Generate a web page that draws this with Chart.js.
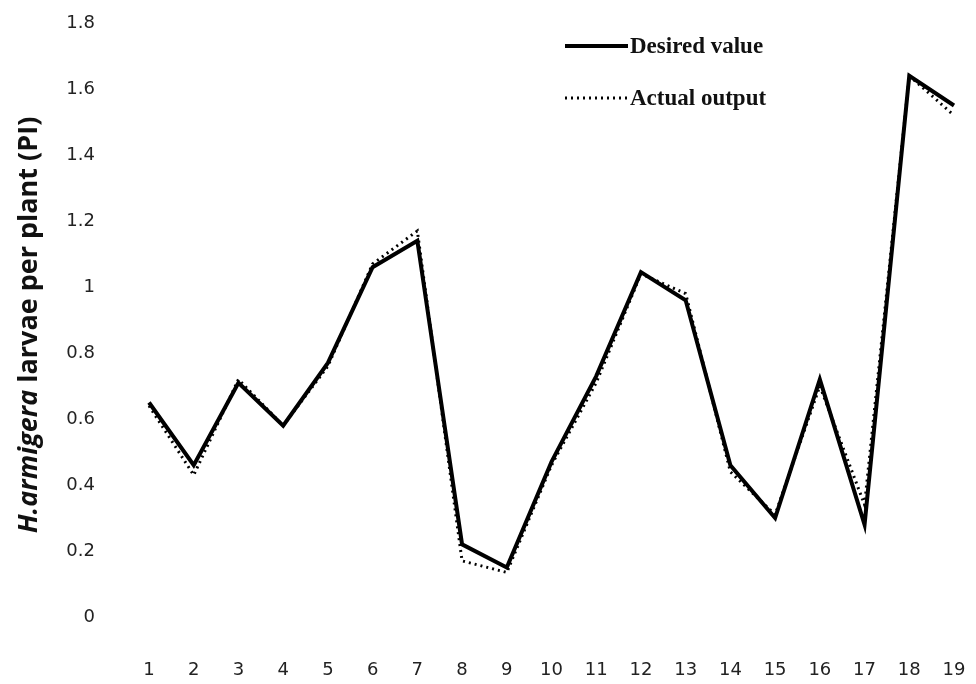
<!DOCTYPE html>
<html>
<head>
<meta charset="utf-8">
<script src="https://cdn.jsdelivr.net/npm/chart.js@4/dist/chart.umd.min.js"></script>
<style>
  html, body { margin: 0; padding: 0; background: #fff; }
  #wrap { width: 976px; height: 684px; position: relative; }
</style>
</head>
<body>
<div id="wrap"><canvas id="chart" width="976" height="684"></canvas></div>
<script>
// --- Data ---
const samples = ["1", "2", "3", "4", "5", "6", "7", "8", "9", "10", "11", "12", "13", "14", "15", "16", "17", "18", "19"];
const desiredValue = [0.65, 0.46, 0.71, 0.58, 0.77, 1.06, 1.14, 0.22, 0.15, 0.47, 0.73, 1.045, 0.96, 0.46, 0.30, 0.72, 0.28, 1.64, 1.55];
const actualOutput = [0.64, 0.43, 0.72, 0.58, 0.76, 1.07, 1.17, 0.17, 0.135, 0.46, 0.71, 1.04, 0.98, 0.44, 0.31, 0.70, 0.34, 1.64, 1.52];
const yTickLabels = ["0", "0.2", "0.4", "0.6", "0.8", "1", "1.2", "1.4", "1.6", "1.8"];

// --- Rotated y title with italic species name ---
const yTitlePlugin = {
  id: "yTitle",
  afterDraw(chart) {
    const ctx = chart.ctx;
    const italic = "H.armigera";
    const rest = " larvae per plant (PI)";
    const size = 27;
    ctx.save();
    ctx.translate(29, 325);
    ctx.rotate(-Math.PI / 2);
    ctx.fillStyle = "#111";
    ctx.textBaseline = "middle";
    ctx.textAlign = "left";
    ctx.font = `italic bold ${size}px 'Open Sans'`;
    const w1 = ctx.measureText(italic).width;
    ctx.font = `bold ${size}px 'Open Sans'`;
    const w2 = ctx.measureText(rest).width;
    const x = -(w1 + w2) / 2;
    ctx.font = `italic bold ${size}px 'Open Sans'`;
    ctx.fillText(italic, x, 0);
    ctx.font = `bold ${size}px 'Open Sans'`;
    ctx.fillText(rest, x + w1, 0);
    ctx.restore();
  }
};

// --- Legend drawn inside the plot, top right ---
const insideLegend = {
  id: "insideLegend",
  afterDraw(chart) {
    const ctx = chart.ctx;
    chart.data.datasets.forEach((ds, i) => {
      const y = 46 + i * 52;
      ctx.save();
      ctx.strokeStyle = ds.borderColor;
      ctx.lineWidth = ds.borderWidth;
      ctx.setLineDash(ds.borderDash || []);
      ctx.beginPath();
      ctx.moveTo(565, y);
      ctx.lineTo(628, y);
      ctx.stroke();
      ctx.setLineDash([]);
      ctx.fillStyle = "#111";
      ctx.font = "bold 23px 'Liberation Serif'";
      ctx.textBaseline = "middle";
      ctx.fillText(ds.label, 630, y + 1);
      ctx.restore();
    });
  }
};

new Chart(document.getElementById("chart"), {
  type: "line",
  data: {
    labels: samples,
    datasets: [
      {
        label: "Desired value",
        data: desiredValue,
        borderColor: "#000",
        borderWidth: 4,
        pointRadius: 0,
        tension: 0
      },
      {
        label: "Actual output",
        data: actualOutput,
        borderColor: "#000",
        borderWidth: 3,
        borderDash: [2, 4],
        pointRadius: 0,
        tension: 0
      }
    ]
  },
  options: {
    responsive: false,
    animation: false,
    layout: { padding: { top: 23, right: 22, left: 0, bottom: 0 } },
    plugins: {
      legend: { display: false },
      tooltip: { enabled: false }
    },
    scales: {
      x: {
        offset: false,
        grid: { display: false },
        border: { display: false },
        ticks: {
          color: "#222",
          font: { family: "DejaVu Sans", size: 18 },
          padding: 35,
          maxRotation: 0,
          autoSkip: false
        },
        afterFit(axis) {
          axis.height = 67;
          axis.paddingLeft = 0;
          axis.paddingRight = 0;
        }
      },
      y: {
        min: 0,
        max: 1.8,
        grid: { display: false },
        border: { display: false },
        ticks: {
          stepSize: 0.2,
          color: "#222",
          font: { family: "DejaVu Sans", size: 18 },
          padding: 46,
          callback: (v, i) => yTickLabels[i]
        },
        afterFit(axis) {
          axis.width = 149;
          axis.paddingTop = 0;
          axis.paddingBottom = 0;
        }
      }
    }
  },
  plugins: [yTitlePlugin, insideLegend]
});
</script>
</body>
</html>
